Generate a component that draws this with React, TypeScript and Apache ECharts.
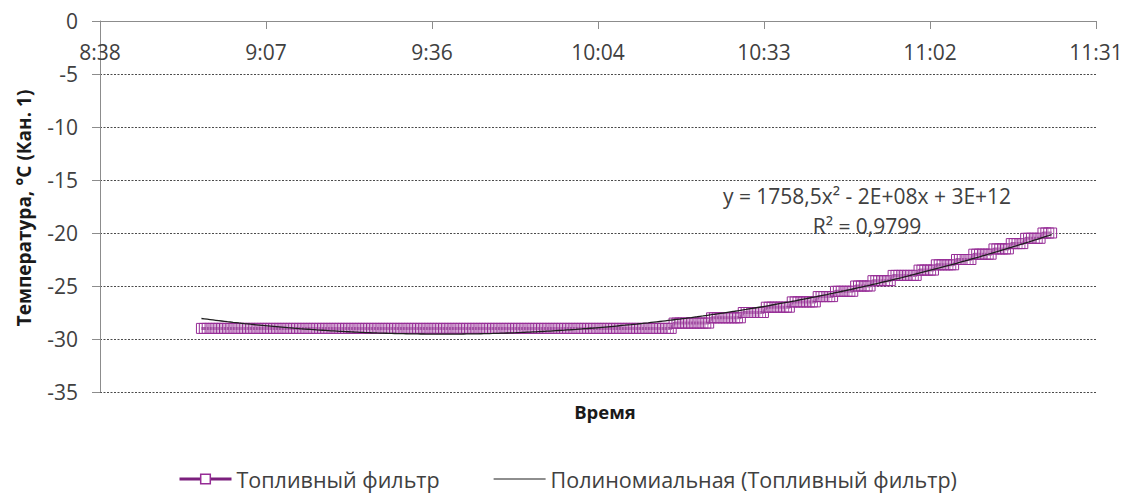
import { useEffect, useRef } from 'react';
import * as echarts from 'echarts';

// Fuel filter temperature log: one reading every 30 s from 8:56:00
const startSecond = 8 * 3600 + 56 * 60;
const sampleStepSec = 30;

// Temperature plateaus (°C, channel 1) and how many consecutive readings stay on each
const stepLevels = [-29, -28.5, -28, -27.5, -27, -26.5, -26, -25.5, -25, -24.5, -24, -23.5, -23, -22.5, -22, -21.5, -21, -20.5, -20];
const stepSamples = [164, 13, 11, 8, 9, 9, 6, 7, 6, 7, 9, 6, 7, 6, 7, 6, 5, 6, 4];

// Time axis in seconds after midnight: 8:38 … 11:31, ticks 28.8 min apart
const timeMin = 31104;
const timeMax = 41472;
const timeStep = 1728;

// Temperature axis
const tempMin = -35;
const tempMax = 0;
const tempStep = 5;

const seriesName = 'Топливный фильтр';
const trendName = 'Полиномиальная (Топливный фильтр)';
const trendEquation = 'y = 1758,5x² - 2E+08x + 3E+12';
const trendR2 = 'R² = 0,9799';
const xTitle = 'Время';
const yTitle = 'Температура, °C (Кан. 1)';

const PURPLE_LINE = '#7B1F7D';
const PURPLE_MARK = '#962C96';
const TEXT = '#404040';
const AXIS = '#8C8C8C';
const TREND = '#1f1f1f';
const FONT = '"Open Sans", "Noto Sans", sans-serif';

function buildReadings(): [number, number][] {
  const out: [number, number][] = [];
  let t = startSecond;
  stepLevels.forEach((level, i) => {
    for (let k = 0; k < stepSamples[i]; k++) {
      out.push([t, level]);
      t += sampleStepSec;
    }
  });
  return out;
}

// Least-squares 2nd order polynomial (the Excel "polynomial" trendline)
function fitQuadratic(pts: [number, number][]) {
  const c = 36600;
  const s = 3600;
  const S = [0, 0, 0, 0, 0];
  const T = [0, 0, 0];
  for (const [t, v] of pts) {
    const u = (t - c) / s;
    let p = 1;
    for (let k = 0; k < 5; k++) {
      S[k] += p;
      if (k < 3) T[k] += v * p;
      p *= u;
    }
  }
  const A = [
    [S[0], S[1], S[2], T[0]],
    [S[1], S[2], S[3], T[1]],
    [S[2], S[3], S[4], T[2]],
  ];
  for (let i = 0; i < 3; i++) {
    let piv = i;
    for (let r = i + 1; r < 3; r++) if (Math.abs(A[r][i]) > Math.abs(A[piv][i])) piv = r;
    [A[i], A[piv]] = [A[piv], A[i]];
    for (let r = 0; r < 3; r++) {
      if (r === i) continue;
      const f = A[r][i] / A[i][i];
      for (let k = i; k < 4; k++) A[r][k] -= f * A[i][k];
    }
  }
  const a0 = A[0][3] / A[0][0];
  const a1 = A[1][3] / A[1][1];
  const a2 = A[2][3] / A[2][2];
  return (t: number) => {
    const u = (t - c) / s;
    return a0 + a1 * u + a2 * u * u;
  };
}

function formatClock(sec: number) {
  const m = Math.floor(sec / 60 + 1e-6);
  const h = Math.floor(m / 60);
  const mm = m % 60;
  return `${h}:${String(mm).padStart(2, '0')}`;
}

export default function App() {
  const ref = useRef<HTMLDivElement>(null);

  useEffect(() => {
    if (!ref.current) return;
    const chart = echarts.init(ref.current, undefined, { renderer: 'svg' });
    const readings = buildReadings();
    const trend = fitQuadratic(readings);
    const trendPoints = readings.map(([t]) => [t, trend(t)]);

    chart.setOption({
      animation: false,
      backgroundColor: '#ffffff',
      textStyle: { fontFamily: FONT },
      grid: { left: 100, right: 36, top: 21, bottom: 102, containLabel: false },
      xAxis: {
        type: 'value',
        position: 'top',
        min: timeMin,
        max: timeMax,
        interval: timeStep,
        axisLine: { show: true, onZero: false, lineStyle: { color: AXIS, width: 1 } },
        axisTick: { show: true, inside: true, length: 8, lineStyle: { color: AXIS } },
        axisLabel: {
          inside: true,
          margin: 20,
          fontSize: 21,
          color: TEXT,
          fontFamily: FONT,
          showMinLabel: true,
          showMaxLabel: true,
          hideOverlap: false,
          formatter: (v: number) => formatClock(v),
        },
        splitLine: { show: false },
      },
      yAxis: {
        type: 'value',
        min: tempMin,
        max: tempMax,
        interval: tempStep,
        axisLine: { show: true, onZero: false, lineStyle: { color: AXIS, width: 1 } },
        axisTick: { show: true, length: 8, lineStyle: { color: AXIS } },
        axisLabel: { margin: 22, fontSize: 21, color: TEXT, fontFamily: FONT },
        splitLine: {
          show: true,
          showMaxLine: false,
          lineStyle: { color: '#4a4a4a', width: 1, type: [2, 1.5] },
        },
      },
      legend: {
        left: 173,
        top: 463,
        itemWidth: 52,
        itemHeight: 12,
        itemGap: 54,
        selectedMode: false,
        textStyle: { fontSize: 21.5, lineHeight: 22, color: TEXT, fontFamily: FONT },
        data: [
          {
            name: seriesName,
            lineStyle: { color: PURPLE_LINE, width: 3 },
            itemStyle: { color: '#ffffff', borderColor: PURPLE_MARK, borderWidth: 1.5 },
          },
          {
            name: trendName,
            icon: 'path://M0,0H50V1.2H0Z',
            itemStyle: { color: TREND },
          },
        ],
      },
      graphic: [
        {
          type: 'text',
          x: 24,
          y: 208,
          rotation: Math.PI / 2,
          style: {
            text: yTitle,
            fontFamily: FONT,
            fontSize: 19,
            fontWeight: 'bold',
            fill: '#1a1a1a',
            textAlign: 'center',
            textVerticalAlign: 'middle',
          },
        },
        {
          type: 'text',
          x: 605,
          y: 411,
          style: {
            text: xTitle,
            fontFamily: FONT,
            fontSize: 18.5,
            fontWeight: 'bold',
            fill: '#1a1a1a',
            textAlign: 'center',
            textVerticalAlign: 'middle',
          },
        },
        {
          type: 'text',
          x: 867,
          y: 196,
          style: {
            text: trendEquation,
            fontFamily: FONT,
            fontSize: 21,
            fill: TEXT,
            textAlign: 'center',
            textVerticalAlign: 'middle',
          },
        },
        {
          type: 'text',
          x: 867,
          y: 226,
          style: {
            text: trendR2,
            fontFamily: FONT,
            fontSize: 21,
            fill: TEXT,
            textAlign: 'center',
            textVerticalAlign: 'middle',
          },
        },
      ],
      series: [
        {
          name: seriesName,
          type: 'line',
          data: readings,
          symbol: 'rect',
          symbolSize: 10,
          showAllSymbol: true,
          z: 2,
          lineStyle: { color: PURPLE_LINE, width: 3 },
          itemStyle: { color: 'rgba(255,255,255,0.15)', borderColor: PURPLE_MARK, borderWidth: 1 },
          emphasis: { disabled: true },
        },
        {
          name: trendName,
          type: 'line',
          data: trendPoints,
          symbol: 'none',
          smooth: false,
          z: 3,
          lineStyle: { color: TREND, width: 1.3 },
          itemStyle: { color: TREND },
          emphasis: { disabled: true },
        },
      ],
    });

    return () => chart.dispose();
  }, []);

  return (
    <div
      ref={ref}
      style={{ position: 'fixed', left: 0, top: 0, width: 1132, height: 494, background: '#ffffff' }}
    />
  );
}
